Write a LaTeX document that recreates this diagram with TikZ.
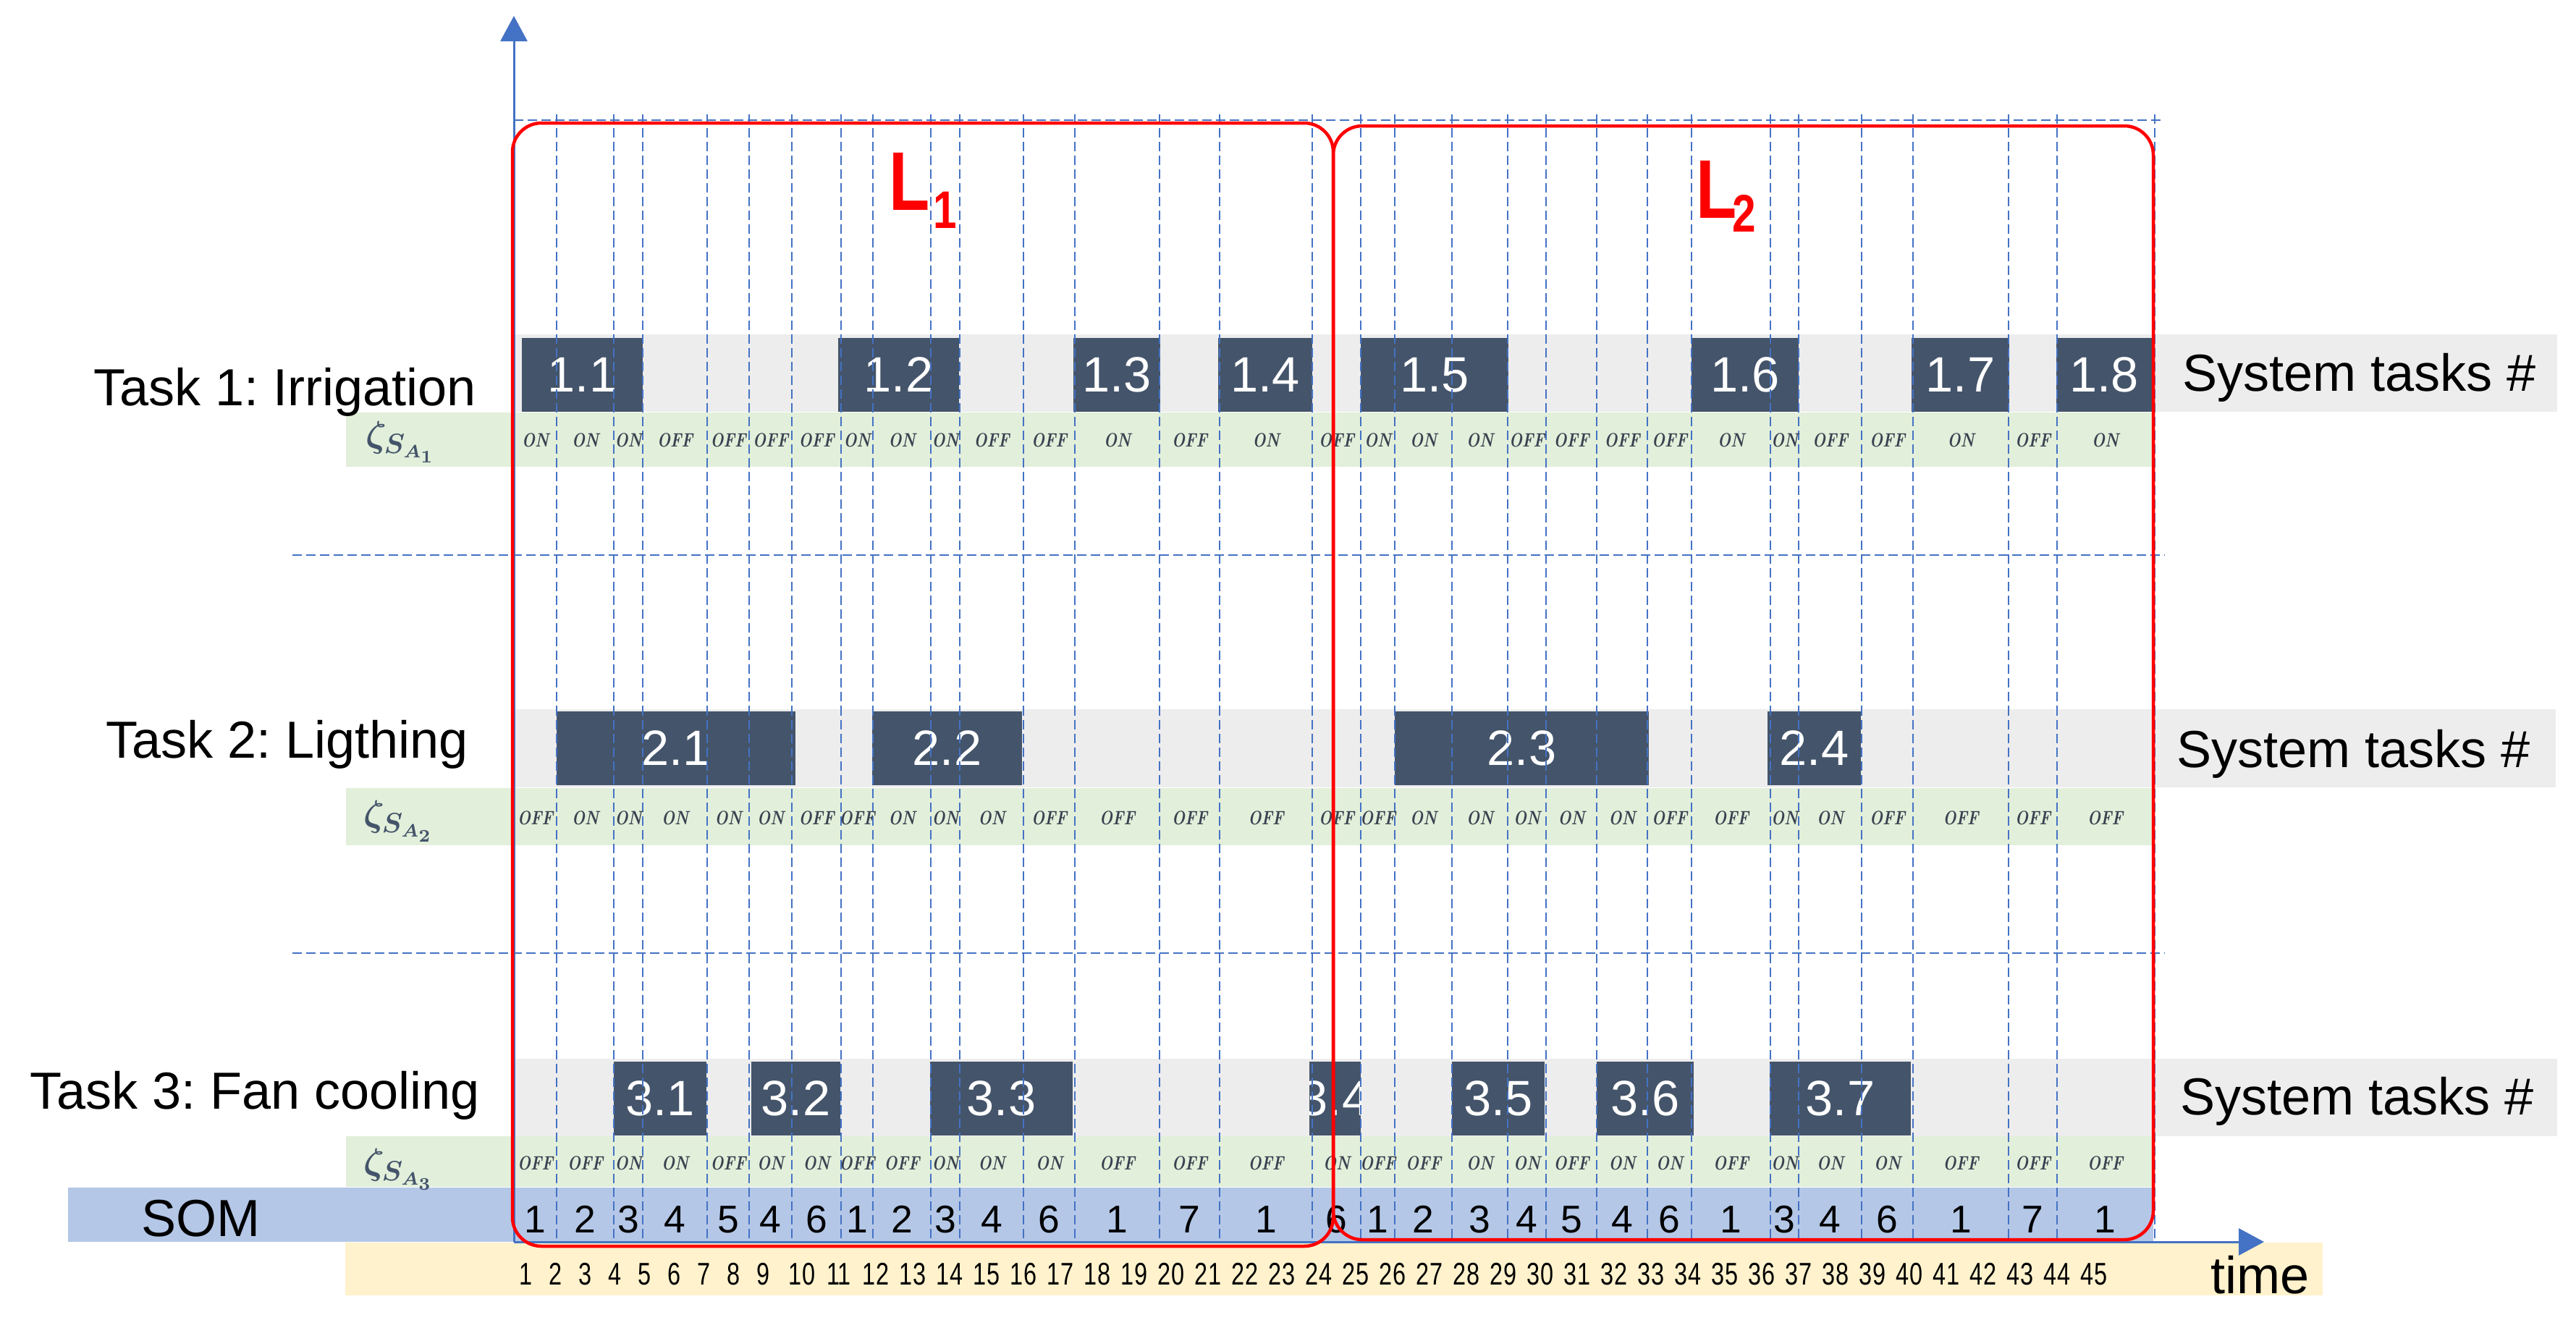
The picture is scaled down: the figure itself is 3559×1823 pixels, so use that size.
\documentclass[tikz,border=0pt]{standalone}
\usepackage{fontspec}
\usepackage{graphicx}
\usetikzlibrary{arrows.meta}
\newfontfamily\arialf{Liberation Sans}
\definecolor{axisblue}{HTML}{4472C4}
\definecolor{taskdark}{HTML}{44546A}
\definecolor{bandgray}{HTML}{EDEDED}
\definecolor{bandgreen}{HTML}{E2EFDA}
\definecolor{bandsom}{HTML}{B4C7E7}
\definecolor{bandyellow}{HTML}{FFF2CC}
\definecolor{zetacol}{HTML}{44546A}
\definecolor{onoffcol}{HTML}{3A4150}
\newcommand{\FBig}{\arialf\fontsize{20.5}{24}\selectfont}
\newcommand{\FBoxT}{\arialf\fontsize{19.5}{23}\selectfont}
\newcommand{\FSom}{\arialf\fontsize{15.2}{18}\selectfont}
\newcommand{\FTick}{\arialf\fontsize{12.3}{14}\selectfont}
\newcommand{\FSw}{\fontsize{7.6}{8}\selectfont\bfseries\itshape}
\newcommand{\FLbig}{\arialf\bfseries\fontsize{32.7}{36}\selectfont}
\newcommand{\FLsub}{\arialf\bfseries\fontsize{20.8}{24}\selectfont}
\newcommand{\FZeta}{\fontsize{15}{17}\selectfont\boldmath}
\frenchspacing
\begin{document}
\begin{tikzpicture}[x=0.01cm,y=-0.01cm,
  every node/.style={inner sep=0pt,outer sep=0pt},
  taskbox/.style={fill=taskdark},
  boxlabel/.style={text=white,font=\FBoxT},
  gridline/.style={draw=axisblue,line width=0.025cm,dash pattern=on 0.13cm off 0.06cm},
  redbox/.style={draw=red,line width=0.045cm,rounded corners=0.4cm},
  axisline/.style={draw=axisblue,line width=0.03cm,-{Triangle[length=0.35cm,width=0.37cm]}},
  swlabel/.style={text=onoffcol,font=\FSw},
  somlabel/.style={font=\FSom,anchor=base},
  ticklabel/.style={font=\FTick,anchor=base},
  tasklabel/.style={font=\FBig,anchor=base east},
  systlabel/.style={font=\FBig,anchor=base west},
  zetalabel/.style={text=zetacol,anchor=west,font=\FZeta},
  llabel/.style={text=red,font=\FLbig,anchor=base west},
  lsub/.style={text=red,font=\FLsub,anchor=base west}]
\useasboundingbox (0,0) rectangle (3559,1823);

% bands
\fill[bandgray] (712,462) rectangle (3533,569);
\fill[bandgray] (712,980) rectangle (3531,1088);
\fill[bandgray] (711,1463) rectangle (3533,1570);
\fill[bandgreen] (478,570) rectangle (2975,645);
\fill[bandgreen] (478,1089) rectangle (2975,1168);
\fill[bandgreen] (478,1570) rectangle (2975,1640);
\fill[bandsom] (94,1641) rectangle (2975,1716);
\fill[bandyellow] (477,1717) rectangle (3209,1790);

% task boxes, row 1
\foreach \l/\r/\n/\t in {721/888/b11/1.1,1158/1325/b12/1.2,1483/1603/b13/1.3,1683/1813/b14/1.4,1880/2084/b15/1.5,2337/2485/b16/1.6,2641/2776/b17/1.7,2841/2973/b18/1.8}{
  \fill[taskbox] (\l,467) rectangle (\r,569);
  \node[boxlabel] (\n) at ({(\l+\r)/2},518) {\t};
}
% row 2
\foreach \l/\r/\n/\t in {769/1099/b21/2.1,1205/1412/b22/2.2,1927/2278/b23/2.3,2442/2571/b24/2.4}{
  \fill[taskbox] (\l,983) rectangle (\r,1085);
  \node[boxlabel] (\n) at ({(\l+\r)/2},1034) {\t};
}
% row 3
\foreach \l/\r/\n/\t in {848/976/b31/3.1,1038/1161/b32/3.2,1285/1482/b33/3.3,2006/2134/b35/3.5,2206/2340/b36/3.6,2445/2640/b37/3.7}{
  \fill[taskbox] (\l,1467) rectangle (\r,1569);
  \node[boxlabel] (\n) at ({(\l+\r)/2},1518) {\t};
}
\begin{scope}
  \clip (1809,1467) rectangle (1880,1569);
  \fill[taskbox] (1809,1467) rectangle (1880,1569);
  \node[boxlabel] (b34) at (1844.5,1518) {3.4};
\end{scope}

% dashed grid
\draw[gridline] (710,166) -- (2991,166);
\draw[gridline] (404,767) -- (2991,767);
\draw[gridline] (404,1317) -- (2991,1317);
\foreach \gx in {769,848,888,977,1035,1094,1162,1206,1286,1326,1414,1485,1602,1685,1813,1880,1927,2006,2083,2136,2206,2276,2337,2446,2485,2572,2643,2775,2842,2977}{
  \draw[gridline] (\gx,158) -- (\gx,1716);
}

% cell labels
\foreach \l/\r/\a/\b/\c/\s [count=\i] in {
710/769/ON/OFF/OFF/1, 769/848/ON/ON/OFF/2, 848/888/ON/ON/ON/3, 888/977/OFF/ON/ON/4,
977/1035/OFF/ON/OFF/5, 1035/1094/OFF/ON/ON/4, 1094/1162/OFF/OFF/ON/6, 1162/1206/ON/OFF/OFF/1,
1206/1286/ON/ON/OFF/2, 1286/1326/ON/ON/ON/3, 1326/1414/OFF/ON/ON/4, 1414/1485/OFF/OFF/ON/6,
1485/1602/ON/OFF/OFF/1, 1602/1685/OFF/OFF/OFF/7, 1685/1813/ON/OFF/OFF/1, 1813/1880/OFF/OFF/ON/6,
1880/1927/ON/OFF/OFF/1, 1927/2006/ON/ON/OFF/2, 2006/2083/ON/ON/ON/3, 2083/2136/OFF/ON/ON/4,
2136/2206/OFF/ON/OFF/5, 2206/2276/OFF/ON/ON/4, 2276/2337/OFF/OFF/ON/6, 2337/2446/ON/OFF/OFF/1,
2446/2485/ON/ON/ON/3, 2485/2572/OFF/ON/ON/4, 2572/2643/OFF/OFF/ON/6, 2643/2775/ON/OFF/OFF/1,
2775/2842/OFF/OFF/OFF/7, 2842/2975/ON/OFF/OFF/1}{
  \node[swlabel] (sa\i) at ({(\l+\r)/2},608) {\scalebox{0.8}[1]{\a}};
  \node[swlabel] (sb\i) at ({(\l+\r)/2},1130) {\scalebox{0.8}[1]{\b}};
  \node[swlabel] (sc\i) at ({(\l+\r)/2},1607) {\scalebox{0.8}[1]{\c}};
  \node[somlabel] (som\i) at ({(\l+\r)/2},1703) {\s};
}

% time ticks
\foreach \i in {1,...,45}{
  \pgfmathsetmacro\tx{\i<10 ? 727+(\i-1)*40.9 : 1108+(\i-10)*51}
  \node[ticklabel] (tk\i) at (\tx,1775) {\scalebox{0.75}[1]{\i}};
}

% zeta labels
\node[zetalabel] (z1) at (505,611) {$\zeta_{S_{A_1}}$};
\node[zetalabel] (z2) at (502,1135) {$\zeta_{S_{A_2}}$};
\node[zetalabel] (z3) at (502,1616) {$\zeta_{S_{A_3}}$};

% axes
\coordinate (O) at (710,1716);
\coordinate (Ytip) at (710,22);
\coordinate (Xtip) at (3128,1716);
\draw[axisline] (O) -- (Ytip);
\draw[axisline] (O) -- (Xtip);

% red boxes
\draw[redbox] (708,170) rectangle (1842,1722);
\draw[redbox] (1842,174) rectangle (2975,1713);

% L labels
\node[llabel] (L1) at (1228,290) {\scalebox{0.8}[1]{L}};
\node[lsub] (L1s) at (1289,315) {\scalebox{0.8}[1]{1}};
\node[llabel] (L2) at (2343,301) {\scalebox{0.8}[1]{L}};
\node[lsub] (L2s) at (2393,320) {\scalebox{0.8}[1]{2}};

% text labels
\node[tasklabel] (task1) at (658,560) {Task 1: Irrigation};
\node[tasklabel] (task2) at (647,1047) {Task 2: Ligthing};
\node[tasklabel] (task3) at (663,1532) {Task 3: Fan cooling};
\node[systlabel] (sys1) at (3015,540) {System tasks \#};
\node[systlabel] (sys2) at (3007,1060) {System tasks \#};
\node[systlabel] (sys3) at (3012,1540) {System tasks \#};
\node[font=\FBig,anchor=base west] (somtitle) at (195,1708) {SOM};
\node[font=\FBig,anchor=base west] (timelabel) at (3054,1787) {time};
\end{tikzpicture}
\end{document}
